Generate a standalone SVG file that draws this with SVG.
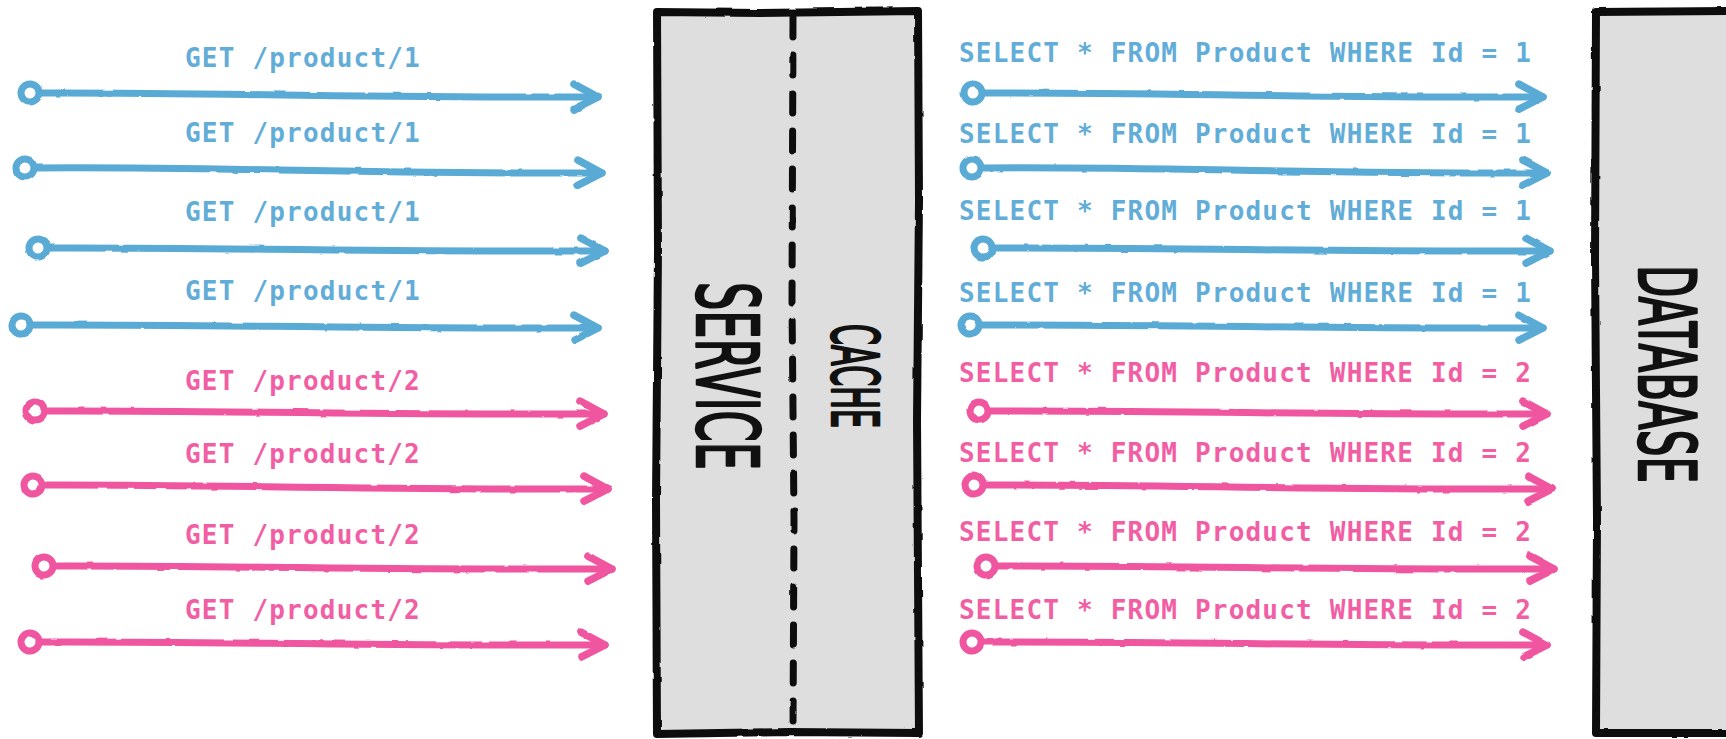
<svg xmlns="http://www.w3.org/2000/svg" width="1726" height="739" viewBox="0 0 1726 739">
  <style>
    .box { fill: #dedede; stroke: #111; stroke-width: 8; stroke-linejoin: round; stroke-linecap: round; }
    .divider { fill: none; stroke: #111; stroke-width: 7; stroke-dasharray: 20 18; stroke-linecap: round; }
    .title { font-family: "Liberation Sans Narrow", "DejaVu Sans Condensed", "Liberation Sans", sans-serif; font-weight: normal; fill: #111; stroke: #111; stroke-width: 2.5; stroke-linejoin: round; text-anchor: middle; }
    .label { font-family: "DejaVu Sans Mono", "Liberation Mono", monospace; font-size: 26px; font-weight: bold; letter-spacing: 1.2px; }
    .blue { fill: #62add8; }
    .pink { fill: #f15ea3; }
    .wire { fill: none; stroke-width: 7; stroke-linecap: round; }
    .wire.b { stroke: #5aaad6; marker-start: url(#dotB); marker-end: url(#headB); }
    .wire.p { stroke: #f0579f; marker-start: url(#dotP); marker-end: url(#headP); }
  </style>
  <defs>
    <filter id="rough" filterUnits="userSpaceOnUse" x="0" y="0" width="1726" height="739">
      <feTurbulence type="fractalNoise" baseFrequency="0.06" numOctaves="2" seed="3" result="n"/>
      <feDisplacementMap in="SourceGraphic" in2="n" scale="2.5" xChannelSelector="R" yChannelSelector="G"/>
    </filter>
    <marker id="headB" markerUnits="userSpaceOnUse" viewBox="-30 -20 40 40" markerWidth="40" markerHeight="40" refX="0" refY="0" orient="auto" overflow="visible">
      <path d="M-24,-13 L0,0 L-24,12" fill="none" stroke="#5aaad6" stroke-width="7.5" stroke-linecap="round" stroke-linejoin="round"/>
    </marker>
    <marker id="headP" markerUnits="userSpaceOnUse" viewBox="-30 -20 40 40" markerWidth="40" markerHeight="40" refX="0" refY="0" orient="auto" overflow="visible">
      <path d="M-24,-13 L0,0 L-24,12" fill="none" stroke="#f0579f" stroke-width="7.5" stroke-linecap="round" stroke-linejoin="round"/>
    </marker>
    <marker id="dotB" markerUnits="userSpaceOnUse" viewBox="-20 -20 40 40" markerWidth="40" markerHeight="40" refX="0" refY="0" orient="auto" overflow="visible">
      <circle cx="0" cy="0" r="9" fill="#fff" stroke="#5aaad6" stroke-width="7"/>
    </marker>
    <marker id="dotP" markerUnits="userSpaceOnUse" viewBox="-20 -20 40 40" markerWidth="40" markerHeight="40" refX="0" refY="0" orient="auto" overflow="visible">
      <circle cx="0" cy="0" r="9" fill="#fff" stroke="#f0579f" stroke-width="7"/>
    </marker>
  </defs>

  <rect width="1726" height="739" fill="#fff"/>

  <!-- service block with its cache half -->
  <g id="service">
    <path class="box" filter="url(#rough)" d="M657,12 L760,13 L918,11 L919,200 L917,420 L919,733 L790,732 L657,734 L656,500 L658,250 Z"/>
    <path class="divider" filter="url(#rough)" d="M793,17 L792,300 L794,520 L793,732"/>
    <text class="title" font-size="86" textLength="188" lengthAdjust="spacingAndGlyphs" transform="translate(697,376) rotate(90)">SERVICE</text>
  </g>
  <g id="cache">
    <text class="title" font-size="64" textLength="104" lengthAdjust="spacingAndGlyphs" transform="translate(832,376) rotate(90)">CACHE</text>
  </g>

  <!-- database block, running off the right edge -->
  <g id="database">
    <path class="box" filter="url(#rough)" d="M1740,11 L1596,12 L1595,260 L1597,520 L1596,733 L1740,733 Z"/>
    <text class="title" font-size="79" textLength="218" lengthAdjust="spacingAndGlyphs" transform="translate(1639,374) rotate(90)">DATABASE</text>
  </g>

  <!-- request labels -->
  <g id="requests">
    <text class="label blue" x="185" y="67">GET /product/1</text>
    <text class="label blue" x="185" y="142">GET /product/1</text>
    <text class="label blue" x="185" y="221">GET /product/1</text>
    <text class="label blue" x="185" y="300">GET /product/1</text>
    <text class="label pink" x="185" y="390">GET /product/2</text>
    <text class="label pink" x="185" y="463">GET /product/2</text>
    <text class="label pink" x="185" y="544">GET /product/2</text>
    <text class="label pink" x="185" y="619">GET /product/2</text>
  </g>

  <!-- query labels -->
  <g id="queries">
    <text class="label blue" x="959" y="62">SELECT * FROM Product WHERE Id = 1</text>
    <text class="label blue" x="959" y="143">SELECT * FROM Product WHERE Id = 1</text>
    <text class="label blue" x="959" y="220">SELECT * FROM Product WHERE Id = 1</text>
    <text class="label blue" x="959" y="302">SELECT * FROM Product WHERE Id = 1</text>
    <text class="label pink" x="959" y="382">SELECT * FROM Product WHERE Id = 2</text>
    <text class="label pink" x="959" y="462">SELECT * FROM Product WHERE Id = 2</text>
    <text class="label pink" x="959" y="541">SELECT * FROM Product WHERE Id = 2</text>
    <text class="label pink" x="959" y="619">SELECT * FROM Product WHERE Id = 2</text>
  </g>

  <!-- connectors -->
  <g id="connectors" filter="url(#rough)">
    <path class="wire b" d="M30,93 C200,92 350,98 598,97"/>
    <path class="wire b" d="M25,168 C200,166 350,174 602,173"/>
    <path class="wire b" d="M38,248 C200,247 350,252 605,251"/>
    <path class="wire b" d="M21,325 C200,324 350,329 598,328"/>
    <path class="wire p" d="M35,411 C200,410 350,415 604,414"/>
    <path class="wire p" d="M33,485 C200,484 350,490 608,489"/>
    <path class="wire p" d="M44,566 C200,565 350,570 612,569"/>
    <path class="wire p" d="M30,642 C200,641 350,646 605,645"/>

    <path class="wire b" d="M973,93 C1150,92 1300,98 1543,97"/>
    <path class="wire b" d="M972,168 C1150,166 1300,174 1547,173"/>
    <path class="wire b" d="M983,248 C1150,247 1300,252 1550,251"/>
    <path class="wire b" d="M970,325 C1150,324 1300,329 1543,328"/>
    <path class="wire p" d="M979,411 C1150,410 1300,415 1547,414"/>
    <path class="wire p" d="M974,485 C1150,484 1300,490 1552,489"/>
    <path class="wire p" d="M986,566 C1150,565 1300,570 1554,569"/>
    <path class="wire p" d="M972,642 C1150,641 1300,646 1547,645"/>
  </g>
</svg>
